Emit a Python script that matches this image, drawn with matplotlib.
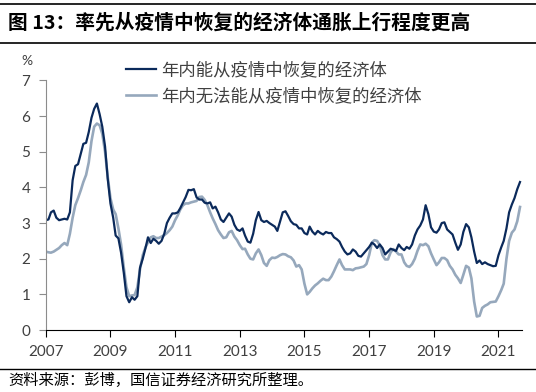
import matplotlib
matplotlib.use('Agg')
import matplotlib.pyplot as plt
import matplotlib.dates as mdates
from matplotlib.lines import Line2D
import pandas as pd

plt.rcParams['font.family'] = ['Lato', 'Noto Sans CJK SC', 'DejaVu Sans']

# 月度数据 2007-01 至 2021-09
dates = pd.date_range('2007-01-01', periods=177, freq='MS')

recovered = [
    3.08, 3.10, 3.30, 3.35, 3.15, 3.08, 3.10, 3.12, 3.10, 3.30, 4.20, 4.60,  # 2007
    4.65, 4.95, 5.22, 5.25, 5.55, 5.95, 6.20, 6.35, 6.05, 5.70, 5.15, 4.25,  # 2008
    3.55, 3.15, 2.65, 2.57, 2.17, 1.60, 0.95, 0.78, 0.92, 0.85, 0.95, 1.75,  # 2009
    2.00, 2.30, 2.60, 2.44, 2.56, 2.50, 2.42, 2.50, 2.70, 3.00, 3.15, 3.27,  # 2010
    3.27, 3.30, 3.42, 3.58, 3.73, 3.93, 3.92, 3.95, 3.72, 3.66, 3.66, 3.57,  # 2011
    3.55, 3.58, 3.41, 3.46, 3.30, 3.10, 3.03, 3.15, 3.27, 3.18, 2.95, 2.82,  # 2012
    2.78, 2.85, 2.65, 2.48, 2.45, 2.70, 3.08, 3.31, 3.08, 3.03, 3.06, 3.00,  # 2013
    2.95, 2.90, 2.78, 3.05, 3.30, 3.33, 3.20, 3.05, 2.97, 2.95, 2.85, 2.85,  # 2014
    2.72, 2.68, 2.90, 2.76, 2.68, 2.78, 2.72, 2.68, 2.75, 2.72, 2.72, 2.60,  # 2015
    2.55, 2.48, 2.33, 2.20, 2.12, 2.15, 2.26, 2.20, 2.08, 2.06, 2.15, 2.24,  # 2016
    2.33, 2.45, 2.40, 2.30, 2.40, 2.30, 2.12, 2.20, 2.28, 2.25, 2.22, 2.40,  # 2017
    2.30, 2.24, 2.33, 2.28, 2.40, 2.65, 2.82, 2.93, 3.10, 3.50, 3.25, 2.88,  # 2018
    2.76, 2.73, 2.82, 3.00, 3.02, 2.82, 2.75, 2.68, 2.45, 2.25, 2.40, 2.75,  # 2019
    2.97, 2.88, 2.60, 2.20, 1.88, 1.95, 1.85, 1.90, 1.85, 1.82, 1.79, 1.80,  # 2020
    2.10, 2.32, 2.50, 2.85, 3.30, 3.52, 3.70, 3.95, 4.15,                    # 2021
]

not_recovered = [
    2.20, 2.18, 2.17, 2.20, 2.25, 2.30, 2.38, 2.44, 2.38, 2.70, 3.15, 3.50,  # 2007
    3.70, 3.92, 4.15, 4.35, 4.70, 5.30, 5.70, 5.79, 5.74, 5.50, 5.00, 4.30,  # 2008
    3.70, 3.38, 3.25, 2.85, 2.40, 1.75, 1.20, 0.95, 0.97, 0.98, 1.20, 1.70,  # 2009
    2.10, 2.32, 2.46, 2.60, 2.63, 2.58, 2.58, 2.62, 2.66, 2.72, 2.80, 2.90,  # 2010
    3.08, 3.22, 3.38, 3.50, 3.55, 3.55, 3.58, 3.60, 3.62, 3.73, 3.74, 3.65,  # 2011
    3.50, 3.30, 3.13, 2.97, 2.80, 2.68, 2.58, 2.60, 2.74, 2.78, 2.62, 2.52,  # 2012
    2.38, 2.27, 2.28, 2.12, 2.00, 1.98, 2.15, 2.26, 2.10, 1.88, 1.80, 1.96,  # 2013
    2.03, 2.02, 2.05, 2.10, 2.13, 2.12, 2.07, 2.04, 1.95, 1.78, 1.82, 1.70,  # 2014
    1.30, 1.00, 1.07, 1.17, 1.25, 1.31, 1.38, 1.44, 1.40, 1.40, 1.50, 1.65,  # 2015
    1.82, 1.98, 1.82, 1.70, 1.70, 1.70, 1.68, 1.73, 1.74, 1.76, 1.78, 1.85,  # 2016
    2.10, 2.45, 2.52, 2.50, 2.38, 2.10, 1.98, 1.98, 2.18, 2.27, 2.20, 2.12,  # 2017
    2.12, 1.90, 1.80, 1.77, 1.85, 2.00, 2.22, 2.40, 2.38, 2.42, 2.35, 2.15,  # 2018
    1.98, 1.82, 1.90, 2.02, 2.02, 1.96, 1.80, 1.70, 1.55, 1.45, 1.32, 1.55,  # 2019
    1.80, 1.75, 1.45, 0.80, 0.38, 0.40, 0.62, 0.68, 0.72, 0.78, 0.79, 0.80,  # 2020
    0.95, 1.12, 1.30, 2.00, 2.50, 2.73, 2.82, 3.05, 3.45,                    # 2021
]

labels = ['年内能从疫情中恢复的经济体', '年内无法能从疫情中恢复的经济体']
colors = ['#0b2a5b', '#96a8bc']
title = '图 13：率先从疫情中恢复的经济体通胀上行程度更高'
source = '资料来源：彭博，国信证券经济研究所整理。'
years = list(range(2007, 2022, 2))

fig = plt.figure(figsize=(5.36, 3.92), dpi=100)
ax = fig.add_axes([0.0853, 0.158, 0.888, 0.637])

ax.plot(dates, not_recovered, color=colors[1], lw=1.9, label=labels[1])
ax.plot(dates, recovered, color=colors[0], lw=1.6, label=labels[0])

ax.set_ylim(0, 7)
ax.set_xlim(pd.Timestamp('2007-01-01'), pd.Timestamp('2021-09-20'))
ax.set_xticks([pd.Timestamp(f'{y}-01-01') for y in years])
ax.xaxis.set_major_formatter(mdates.DateFormatter('%Y'))
ax.set_yticks(range(0, 8))

for s in ['top', 'right']:
    ax.spines[s].set_visible(False)
ax.spines['left'].set_color('#8c8c8c')
ax.spines['bottom'].set_color('black')
ax.tick_params(axis='y', colors='#8c8c8c', labelcolor='#404040', labelsize=11, length=5, pad=6)
ax.tick_params(axis='x', colors='black', labelcolor='#404040', labelsize=11, length=5, pad=6)

ax.text(-0.04, 1.06, '%', transform=ax.transAxes, fontsize=10, color='#404040', ha='center')

handles = [Line2D([], [], color=colors[0], lw=1.6), Line2D([], [], color=colors[1], lw=1.9)]
ax.legend(handles, labels, loc='upper left', bbox_to_anchor=(0.155, 1.105), frameon=False,
          prop={'family': ['Noto Sans CJK SC'], 'size': 12.5}, labelcolor='#404040',
          handlelength=1.7, handletextpad=0.3, labelspacing=0.45, borderaxespad=0)

# 标题、横线与资料来源
fig.add_artist(Line2D([0, 1], [0.99, 0.99], color='black', lw=1.2))
fig.add_artist(Line2D([0, 1], [0.89, 0.89], color='black', lw=1.2))
fig.text(0.015, 0.943, title, fontsize=14.2, fontweight='bold', va='center',
         family=['Noto Sans CJK SC'])
fig.add_artist(Line2D([0, 1], [0.059, 0.059], color='black', lw=1.0))
fig.text(0.015, 0.03, source, fontsize=11, va='center', color='black',
         family=['Noto Sans CJK SC'])

fig.savefig('out.png', dpi=100)
plt.close(fig)
